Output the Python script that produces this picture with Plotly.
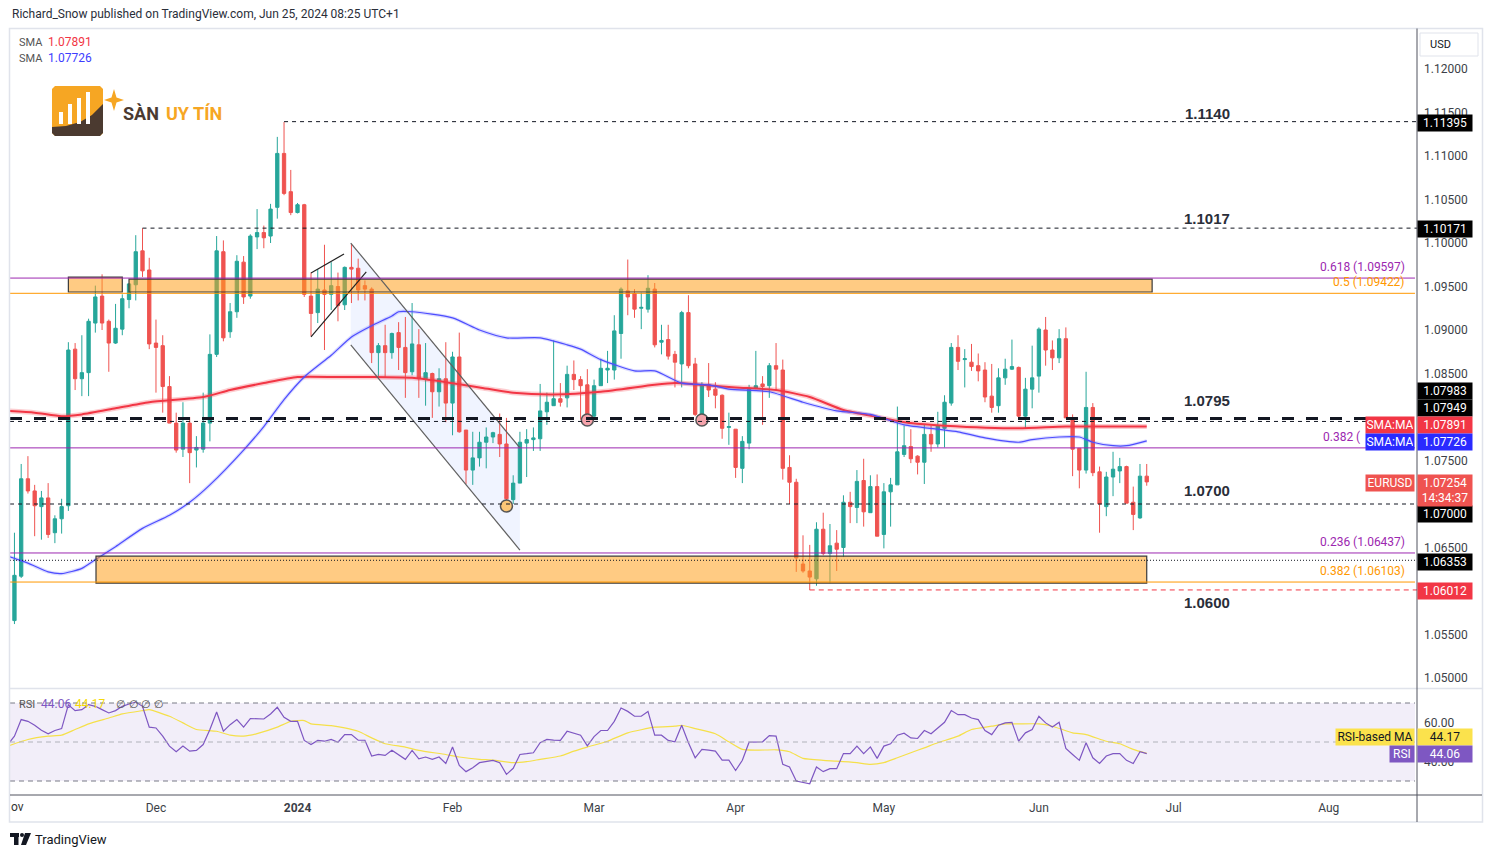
import pandas as pd
import plotly.graph_objects as go

W, H = 1492, 857


def px(v):
    return v / W


def py(v):
    return 1 - v / H


# ---- data (EURUSD daily) ----
dates = pd.bdate_range("2023-11-01", "2024-06-25")

opens = [1.0575, 1.0566, 1.0617, 1.0729, 1.0715, 1.0697, 1.0707, 1.0667, 1.0683, 1.0698,
         1.0878, 1.0844, 1.0851, 1.0908, 1.0939, 1.0910, 1.0885, 1.0901, 1.0935, 1.0952,
         1.0991, 1.0969, 1.0885, 1.0882, 1.0835, 1.0793, 1.0763, 1.0793, 1.0762, 1.0763,
         1.0793, 1.0872, 1.0990, 1.0898, 1.0921, 1.0978, 1.0939, 1.1007, 1.1012, 1.1008,
         1.1041, 1.1103, 1.1059, 1.1035, 1.1044, 1.0939, 1.0920, 1.0946, 1.0941, 1.0950,
         1.0929, 1.0972, 1.0971, 1.0951, 1.0947, 1.0874, 1.0882, 1.0874, 1.0897, 1.0880,
         1.0852, 1.0883, 1.0844, 1.0850, 1.0829, 1.0844, 1.0816, 1.0869, 1.0785, 1.0739,
         1.0753, 1.0771, 1.0777, 1.0780, 1.0769, 1.0705, 1.0724, 1.0770, 1.0774, 1.0775,
         1.0806, 1.0813, 1.0821, 1.0822, 1.0849, 1.0843, 1.0837, 1.0801, 1.0836, 1.0854,
         1.0854, 1.0896, 1.0945, 1.0942, 1.0925, 1.0924, 1.0947, 1.0886, 1.0889, 1.0872,
         1.0861, 1.0920, 1.0861, 1.0803, 1.0837, 1.0832, 1.0825, 1.0788, 1.0786, 1.0741,
         1.0770, 1.0833, 1.0838, 1.0836, 1.0859, 1.0854, 1.0742, 1.0725, 1.0631, 1.0623,
         1.0614, 1.0671, 1.0643, 1.0655, 1.0650, 1.0702, 1.0696, 1.0727, 1.0690, 1.0720,
         1.0665, 1.0714, 1.0722, 1.0757, 1.0766, 1.0755, 1.0748, 1.0780, 1.0769, 1.0787,
         1.0816, 1.0880, 1.0866, 1.0863, 1.0859, 1.0854, 1.0824, 1.0813, 1.0845, 1.0855,
         1.0857, 1.0801, 1.0832, 1.0847, 1.0900, 1.0877, 1.0868, 1.0890, 1.0797, 1.0764,
         1.0739, 1.0811, 1.0737, 1.0697, 1.0731, 1.0738, 1.0743, 1.0702, 1.0684, 1.0732]
highs = [1.0580, 1.0667, 1.0746, 1.0755, 1.0722, 1.0715, 1.0724, 1.0687, 1.0706, 1.0886,
         1.0885, 1.0894, 1.0913, 1.0951, 1.0964, 1.0912, 1.0930, 1.0941, 1.0954, 1.1009,
         1.1017, 1.0983, 1.0912, 1.0894, 1.0847, 1.0805, 1.0817, 1.0800, 1.0778, 1.0828,
         1.0895, 1.1008, 1.1003, 1.0931, 1.0986, 1.0985, 1.1010, 1.1039, 1.1020, 1.1045,
         1.1122, 1.1139, 1.1084, 1.1046, 1.1045, 1.0966, 1.0970, 1.0998, 1.0978, 1.0966,
         1.0973, 1.0999, 1.0982, 1.0957, 1.0949, 1.0885, 1.0906, 1.0897, 1.0909, 1.0915,
         1.0931, 1.0901, 1.0885, 1.0851, 1.0856, 1.0886, 1.0875, 1.0897, 1.0785, 1.0783,
         1.0783, 1.0788, 1.0783, 1.0804, 1.0799, 1.0733, 1.0783, 1.0786, 1.0788, 1.0838,
         1.0828, 1.0888, 1.0839, 1.0859, 1.0865, 1.0847, 1.0855, 1.0843, 1.0867, 1.0876,
         1.0917, 1.0949, 1.0981, 1.0947, 1.0943, 1.0963, 1.0954, 1.0906, 1.0906, 1.0876,
         1.0922, 1.0940, 1.0868, 1.0840, 1.0862, 1.0840, 1.0826, 1.0805, 1.0786, 1.0778,
         1.0837, 1.0876, 1.0847, 1.0862, 1.0885, 1.0866, 1.0756, 1.0729, 1.0664, 1.0653,
         1.0679, 1.0690, 1.0677, 1.0670, 1.0710, 1.0714, 1.0739, 1.0752, 1.0733, 1.0734,
         1.0724, 1.0730, 1.0812, 1.0790, 1.0786, 1.0756, 1.0791, 1.0790, 1.0806, 1.0825,
         1.0885, 1.0894, 1.0878, 1.0884, 1.0873, 1.0863, 1.0861, 1.0856, 1.0867, 1.0889,
         1.0858, 1.0845, 1.0882, 1.0903, 1.0915, 1.0888, 1.0901, 1.0903, 1.0803, 1.0764,
         1.0852, 1.0816, 1.0743, 1.0737, 1.0760, 1.0753, 1.0744, 1.0720, 1.0746, 1.0746]
lows = [1.0517, 1.0562, 1.0615, 1.0712, 1.0663, 1.0659, 1.0661, 1.0655, 1.0666, 1.0692,
        1.0831, 1.0824, 1.0824, 1.0897, 1.0900, 1.0852, 1.0884, 1.0894, 1.0925, 1.0934,
        1.0961, 1.0878, 1.0828, 1.0805, 1.0793, 1.0759, 1.0754, 1.0724, 1.0742, 1.0759,
        1.0772, 1.0869, 1.0887, 1.0891, 1.0914, 1.0930, 1.0936, 1.0993, 1.0994, 1.1000,
        1.1028, 1.1055, 1.1032, 1.1034, 1.0938, 1.0893, 1.0908, 1.0877, 1.0923, 1.0910,
        1.0923, 1.0931, 1.0934, 1.0934, 1.0862, 1.0846, 1.0846, 1.0867, 1.0854, 1.0822,
        1.0848, 1.0822, 1.0813, 1.0799, 1.0812, 1.0794, 1.0779, 1.0782, 1.0723, 1.0722,
        1.0743, 1.0741, 1.0770, 1.0754, 1.0700, 1.0700, 1.0724, 1.0731, 1.0761, 1.0761,
        1.0791, 1.0813, 1.0812, 1.0811, 1.0831, 1.0797, 1.0794, 1.0799, 1.0836, 1.0839,
        1.0843, 1.0867, 1.0917, 1.0914, 1.0901, 1.0920, 1.0880, 1.0872, 1.0866, 1.0834,
        1.0834, 1.0856, 1.0801, 1.0797, 1.0823, 1.0810, 1.0775, 1.0768, 1.0730, 1.0724,
        1.0763, 1.0832, 1.0791, 1.0822, 1.0831, 1.0728, 1.0700, 1.0622, 1.0621, 1.0601,
        1.0606, 1.0641, 1.0609, 1.0623, 1.0639, 1.0678, 1.0678, 1.0674, 1.0690, 1.0663,
        1.0649, 1.0674, 1.0722, 1.0754, 1.0747, 1.0734, 1.0723, 1.0760, 1.0765, 1.0765,
        1.0813, 1.0854, 1.0834, 1.0853, 1.0841, 1.0817, 1.0805, 1.0805, 1.0837, 1.0854,
        1.0798, 1.0787, 1.0810, 1.0828, 1.0859, 1.0854, 1.0862, 1.0799, 1.0732, 1.0718,
        1.0735, 1.0732, 1.0667, 1.0686, 1.0709, 1.0724, 1.0701, 1.0670, 1.0683, 1.0721]
closes = [1.0566, 1.0618, 1.0729, 1.0715, 1.0698, 1.0707, 1.0665, 1.0683, 1.0697, 1.0877,
          1.0844, 1.0851, 1.0910, 1.0938, 1.0908, 1.0885, 1.0902, 1.0936, 1.0953, 1.0990,
          1.0968, 1.0884, 1.0880, 1.0835, 1.0793, 1.0762, 1.0793, 1.0759, 1.0765, 1.0793,
          1.0872, 1.0991, 1.0891, 1.0921, 1.0979, 1.0938, 1.1008, 1.1012, 1.1006, 1.1039,
          1.1103, 1.1057, 1.1035, 1.1044, 1.0941, 1.0919, 1.0947, 1.0941, 1.0951, 1.0928,
          1.0972, 1.0970, 1.0946, 1.0947, 1.0874, 1.0882, 1.0874, 1.0896, 1.0880, 1.0851,
          1.0884, 1.0844, 1.0851, 1.0829, 1.0844, 1.0816, 1.0869, 1.0783, 1.0739, 1.0753,
          1.0771, 1.0777, 1.0782, 1.0769, 1.0706, 1.0724, 1.0771, 1.0774, 1.0776, 1.0807,
          1.0817, 1.0821, 1.0817, 1.0849, 1.0843, 1.0836, 1.0800, 1.0836, 1.0856, 1.0856,
          1.0899, 1.0947, 1.0938, 1.0924, 1.0926, 1.0948, 1.0883, 1.0888, 1.0870, 1.0863,
          1.0920, 1.0859, 1.0803, 1.0837, 1.0831, 1.0825, 1.0787, 1.0789, 1.0742, 1.0772,
          1.0832, 1.0836, 1.0835, 1.0859, 1.0855, 1.0741, 1.0725, 1.0638, 1.0623, 1.0616,
          1.0671, 1.0643, 1.0652, 1.0648, 1.0702, 1.0697, 1.0726, 1.0691, 1.0720, 1.0663,
          1.0714, 1.0722, 1.0760, 1.0767, 1.0752, 1.0748, 1.0780, 1.0769, 1.0790, 1.0817,
          1.0880, 1.0864, 1.0867, 1.0858, 1.0853, 1.0823, 1.0811, 1.0845, 1.0855, 1.0858,
          1.0801, 1.0832, 1.0845, 1.0901, 1.0877, 1.0868, 1.0890, 1.0799, 1.0763, 1.0739,
          1.0811, 1.0736, 1.0700, 1.0731, 1.0740, 1.0743, 1.0701, 1.0688, 1.0732, 1.07254]

rsi = [48.7, 53.0, 61.5, 60.6, 58.6, 56.0, 54.2, 55.9, 56.9, 69.1,
       66.1, 66.6, 69.1, 68.3, 66.6, 64.9, 66.1, 68.3, 69.5, 70.5,
       68.3, 57.6, 57.2, 53.0, 47.9, 45.0, 47.9, 45.3, 45.7, 48.7,
       56.4, 65.4, 55.5, 58.9, 61.5, 57.6, 62.0, 62.0, 61.8, 64.4,
       67.8, 62.7, 60.6, 60.6, 50.8, 48.7, 50.8, 50.4, 51.3, 49.9,
       53.8, 53.8, 50.9, 50.9, 42.8, 43.6, 43.1, 45.8, 43.5, 41.1,
       45.7, 41.4, 42.3, 41.1, 42.3, 39.0, 47.4, 38.0, 34.8, 36.8,
       39.4, 40.0, 40.6, 39.4, 33.4, 36.5, 43.6, 44.0, 44.5, 49.6,
       51.3, 51.0, 50.8, 55.5, 54.5, 53.5, 48.0, 52.8, 55.9, 55.9,
       60.6, 67.4, 65.7, 63.2, 63.2, 65.7, 53.5, 53.5, 50.8, 50.1,
       58.6, 49.6, 41.9, 46.2, 45.8, 45.3, 40.7, 40.7, 35.4, 40.6,
       49.9, 50.1, 50.1, 53.3, 53.0, 38.5, 37.2, 30.0, 29.2, 28.6,
       37.2, 34.8, 36.3, 36.3, 44.1, 44.0, 47.9, 44.0, 47.5, 41.6,
       47.9, 49.1, 53.5, 54.5, 52.1, 51.8, 55.9, 54.2, 57.2, 60.1,
       66.1, 64.0, 64.0, 62.3, 61.5, 55.9, 53.8, 58.6, 59.8, 60.1,
       50.4, 54.7, 56.4, 63.2, 59.8, 57.7, 60.1, 46.7, 43.6, 40.6,
       49.6, 41.9, 39.0, 42.8, 44.0, 44.1, 40.6, 39.0, 45.0, 44.06]

# moving averages, sampled along the drawn lines (bar index, value)
sma200_bar = [0, 4, 8, 11, 16, 21, 29, 33, 38, 43, 49, 54, 60, 65, 70, 75, 81, 88, 96, 99,
              103, 108, 114, 119, 124, 129, 134, 139, 150, 157, 169]
sma200_val = [1.0807, 1.0805, 1.0801, 1.0803, 1.0810, 1.0817, 1.0823, 1.0831, 1.0839, 1.0846,
              1.0846, 1.0846, 1.0845, 1.0840, 1.0834, 1.0828, 1.0826, 1.0829, 1.0837, 1.0839,
              1.0837, 1.0834, 1.0831, 1.0823, 1.0808, 1.0800, 1.0793, 1.0790, 1.0787, 1.0789, 1.07891]
sma50_bar = [0, 3, 6, 8, 11, 13, 16, 20, 24, 27, 30, 35, 38, 41, 44, 48, 51, 54, 57, 58,
             60, 66, 70, 74, 79, 83, 85, 88, 93, 96, 100, 104, 107, 113, 118, 123, 128, 133,
             138, 141, 145, 150, 152, 156, 159, 161, 164, 166, 169]
sma50_val = [1.0640, 1.0632, 1.0622, 1.0620, 1.0626, 1.0636, 1.0651, 1.0672, 1.0687, 1.0702,
             1.0722, 1.0762, 1.0789, 1.0820, 1.0846, 1.0871, 1.0892, 1.0905, 1.0916, 1.0921,
             1.0921, 1.0914, 1.0900, 1.0891, 1.0891, 1.0883, 1.0878, 1.0866, 1.0853, 1.0853,
             1.0839, 1.0837, 1.0832, 1.0829, 1.0817, 1.0807, 1.0803, 1.0791, 1.0786, 1.0783,
             1.0776, 1.0771, 1.0774, 1.0777, 1.0777, 1.0771, 1.0767, 1.0767, 1.07726]
rsima_bar = [0, 3, 6, 8, 10, 12, 15, 17, 20, 21, 24, 26, 28, 31, 33, 35, 37, 40, 42, 44,
             45, 48, 50, 52, 54, 56, 59, 61, 65, 67, 70, 72, 75, 77, 79, 82, 84, 86, 89, 92,
             96, 99, 100, 102, 105, 107, 109, 111, 114, 116, 118, 121, 123, 126, 128, 130,
             132, 134, 136, 138, 141, 143, 146, 148, 150, 153, 155, 158, 160, 163, 165, 167, 169]
rsima_val = [47.9, 51.3, 53.0, 53.5, 56.4, 59.3, 62.3, 64.4, 66.1, 66.6, 63.2, 59.8, 56.4,
             55.5, 53.5, 53.0, 54.3, 57.6, 60.6, 61.0, 59.3, 58.4, 57.2, 55.5, 52.1, 49.1,
             47.4, 45.7, 43.6, 42.3, 41.1, 40.7, 39.4, 39.9, 41.1, 42.8, 45.3, 47.4, 50.4,
             54.7, 57.6, 58.1, 58.6, 56.9, 54.2, 50.1, 46.2, 45.8, 46.0, 45.0, 41.6, 40.6,
             40.2, 39.4, 38.5, 39.4, 41.9, 44.5, 47.0, 49.6, 53.0, 56.4, 58.1, 59.3, 59.3,
             59.3, 58.1, 54.7, 53.8, 50.4, 49.1, 46.2, 44.17]

# drawings on the chart
level_lines = [1.11395, 1.10171, 1.07983, 1.07949, 1.07000, 1.06353, 1.06012]
level_start = [41, 20, None, None, None, None, 119]
level_text = ["1.1140", "1.1017", "1.0795", "1.0700", "1.0600"]
fib_purple = [1.09597, 1.07645, 1.06437]
fib_purple_text = ["0.618 (1.09597)", "0.382 (", "0.236 (1.06437)"]
fib_orange = [1.09422, 1.06103]
fib_orange_text = ["0.5 (1.09422)", "0.382 (1.06103)"]
zones = [(9, 17, 1.09437, 1.09609), (18, 169.8, 1.09437, 1.09586), (13.1, 169, 1.0609, 1.0640)]
channel_top = [(50.9, 1.1000), (76.0, 1.07644)]
channel_bot = [(50.9, 1.08828), (76.0, 1.06471)]
wedge_a = [(45.0, 1.09655), (49.9, 1.09874)]
wedge_b = [(45.0, 1.0892), (53.2, 1.09667)]
marks_bar = [86, 103, 74]
marks_val = [1.07966, 1.07966, 1.06977]
marks_col = ["#f5a3ab", "#f5a3ab", "#fcc676"]
price_ticks = [1.050, 1.055, 1.065, 1.075, 1.085, 1.090, 1.095, 1.100, 1.105, 1.110, 1.115, 1.120]

xi = list(range(len(dates)))
X0, X1 = 0.34, 209.1
Y0, Y1 = 1.04885, 1.12460

# month ticks on the time axis (trading-day index)
span = pd.bdate_range("2023-11-01", "2024-08-30")
month_vals, month_text = [], []
prev = span[0].month
for i, d in enumerate(span):
    if d.month != prev:
        month_vals.append(i)
        month_text.append("<b>2024</b>" if d.month == 1 else d.strftime("%b"))
        prev = d.month

GREEN, RED = "#26a69a", "#ef5350"
FONT = "Roboto, Arial, sans-serif"

fig = go.Figure()

fig.add_trace(go.Scatter(x=sma200_bar, y=sma200_val, mode="lines", line=dict(color="rgba(242,54,69,0.25)", width=5, shape="spline", smoothing=0.6),
                         hoverinfo="skip", showlegend=False))
fig.add_trace(go.Scatter(x=sma200_bar, y=sma200_val, mode="lines", line=dict(color="#f23645", width=2, shape="spline", smoothing=0.6),
                         hoverinfo="skip", showlegend=False))
fig.add_trace(go.Scatter(x=sma50_bar, y=sma50_val, mode="lines", line=dict(color="rgba(80,80,255,0.2)", width=3.5, shape="spline", smoothing=0.6),
                         hoverinfo="skip", showlegend=False))
fig.add_trace(go.Scatter(x=sma50_bar, y=sma50_val, mode="lines", line=dict(color="#4d4dff", width=1.2, shape="spline", smoothing=0.6),
                         hoverinfo="skip", showlegend=False))

fig.add_trace(go.Candlestick(
    x=xi, open=opens, high=highs, low=lows, close=closes,
    increasing=dict(line=dict(color=GREEN, width=1), fillcolor=GREEN),
    decreasing=dict(line=dict(color=RED, width=1), fillcolor=RED),
    whiskerwidth=0, showlegend=False))

fig.add_trace(go.Scatter(x=marks_bar, y=marks_val, mode="markers",
                         marker=dict(size=12, color=marks_col, line=dict(color="#555", width=1.5)),
                         hoverinfo="skip", showlegend=False))

# RSI pane
fig.add_trace(go.Scatter(x=rsima_bar, y=rsima_val, xaxis="x2", yaxis="y2", mode="lines",
                         line=dict(color="#f5e04a", width=1.2, shape="spline", smoothing=0.5),
                         hoverinfo="skip", showlegend=False))
fig.add_trace(go.Scatter(x=xi, y=rsi, xaxis="x2", yaxis="y2", mode="lines",
                         line=dict(color="#7e57c2", width=1.2), hoverinfo="skip", showlegend=False))

shapes = []
# zones and drawings
for a, b, lo, hi in zones:
    shapes.append(dict(type="rect", xref="x", yref="y", x0=a, x1=b, y0=lo, y1=hi, layer="above",
                       fillcolor="rgba(255,160,30,0.55)", line=dict(color="#3a3a3a", width=1.2)))
shapes.append(dict(type="path", xref="x", yref="y", layer="below", line=dict(width=0),
                   fillcolor="rgba(41,98,255,0.07)",
                   path="M {},{} L {},{} L {},{} L {},{} Z".format(
                       channel_top[0][0], channel_top[0][1], channel_top[1][0], channel_top[1][1],
                       channel_bot[1][0], channel_bot[1][1], channel_bot[0][0], channel_bot[0][1])))
for seg, col in [(channel_top, "#606060"), (channel_bot, "#606060"), (wedge_a, "#222"), (wedge_b, "#222")]:
    shapes.append(dict(type="line", xref="x", yref="y", x0=seg[0][0], y0=seg[0][1], x1=seg[1][0], y1=seg[1][1],
                       layer="above", line=dict(color=col, width=1.2)))

styles = [("#131722", 1, "4px,4px"), ("#131722", 1, "4px,4px"), ("#131722", 3, "12px,12px"),
          ("#131722", 1, "4px,4px"), ("#131722", 1, "4px,4px"), ("#131722", 1, "1px,2px"),
          ("#f23645", 1, "5px,4px")]
for lv, st, (col, w, dash) in zip(level_lines, level_start, styles):
    shapes.append(dict(type="line", xref="x", yref="y", x0=X0 if st is None else st, x1=X1, y0=lv, y1=lv,
                       layer="above", line=dict(color=col, width=w, dash=dash)))
for lv in fib_purple:
    shapes.append(dict(type="line", xref="x", yref="y", x0=X0, x1=X1 - 0.3, y0=lv, y1=lv,
                       layer="above", line=dict(color="#9c27b0", width=1)))
for lv in fib_orange:
    shapes.append(dict(type="line", xref="x", yref="y", x0=X0, x1=X1 - 0.3, y0=lv, y1=lv,
                       layer="above", line=dict(color="#ff9800", width=1)))

# RSI band and guides
shapes.append(dict(type="rect", xref="paper", yref="y2", x0=px(10), x1=px(1415), y0=30, y1=70,
                   fillcolor="rgba(126,87,194,0.1)", line=dict(width=0), layer="below"))
for lv in [70, 50, 30]:
    shapes.append(dict(type="line", xref="paper", yref="y2", x0=px(10), x1=px(1415), y0=lv, y1=lv,
                       line=dict(color="#787b86" if lv != 50 else "#b0b2ba", width=1, dash="5px,4px")))

# frame
shapes.append(dict(type="rect", xref="paper", yref="paper", x0=px(9.5), x1=px(1482.5), y0=py(822), y1=py(28.5),
                   line=dict(color="#e0e3eb", width=1.5)))
shapes.append(dict(type="line", xref="paper", yref="paper", x0=px(10), x1=px(1482), y0=py(688.5), y1=py(688.5),
                   line=dict(color="#e0e3eb", width=1.5)))
shapes.append(dict(type="line", xref="paper", yref="paper", x0=px(1417), x1=px(1417), y0=py(822), y1=py(28.5),
                   line=dict(color="#50535e", width=1)))
shapes.append(dict(type="line", xref="paper", yref="paper", x0=px(10), x1=px(1482), y0=py(795), y1=py(795),
                   line=dict(color="#50535e", width=1)))
shapes.append(dict(type="rect", xref="paper", yref="paper", x0=px(1420), x1=px(1478), y0=py(56), y1=py(33),
                   line=dict(color="#e0e3eb", width=1), fillcolor="white"))


def pix_path(points):
    return "M " + " L ".join("{:.5f},{:.5f}".format(px(a), py(b)) for a, b in points) + " Z"


# logo (top-left)
shapes.append(dict(type="path", xref="paper", yref="paper", fillcolor="#f6a623", line=dict(width=0),
                   path=pix_path([(55, 86), (100, 86), (103, 89), (103, 133), (100, 136), (55, 136), (52, 133), (52, 89)])))
shapes.append(dict(type="path", xref="paper", yref="paper", fillcolor="#4b3a30", line=dict(width=0),
                   path=pix_path([(52, 127), (66, 126), (80, 122), (92, 115), (103, 104), (103, 133), (100, 136), (55, 136), (52, 133)])))
for bx, top in [(59, 112), (68, 104), (77, 98), (86, 92)]:
    shapes.append(dict(type="rect", xref="paper", yref="paper", x0=px(bx), x1=px(bx + 4), y0=py(124), y1=py(top),
                       fillcolor="white", line=dict(width=0)))
shapes.append(dict(type="path", xref="paper", yref="paper", fillcolor="#f6a623", line=dict(width=0),
                   path=pix_path([(114, 89), (116.5, 97.5), (124, 100), (116.5, 102.5), (114, 111), (111.5, 102.5), (104, 100), (111.5, 97.5)])))
# footer TradingView mark
shapes.append(dict(type="rect", xref="paper", yref="paper", x0=px(10), x1=px(19), y0=py(837), y1=py(833),
                   fillcolor="#131722", line=dict(width=0)))
shapes.append(dict(type="rect", xref="paper", yref="paper", x0=px(14), x1=px(18.5), y0=py(845), y1=py(833),
                   fillcolor="#131722", line=dict(width=0)))
shapes.append(dict(type="circle", xref="paper", yref="paper", x0=px(20), x1=px(24), y0=py(837), y1=py(833),
                   fillcolor="#131722", line=dict(width=0)))
shapes.append(dict(type="path", xref="paper", yref="paper", fillcolor="#131722", line=dict(width=0),
                   path=pix_path([(25, 833), (31, 833), (26, 845), (21, 845)])))

ann = []


def text(x, y, s, size=12, color="#131722", anchor="left", **kw):
    ann.append(dict(xref="paper", yref="paper", x=px(x), y=py(y), text=s, showarrow=False,
                    xanchor=anchor, yanchor="middle", font=dict(size=size, color=color, family=FONT), **kw))


def tag(y, s, bg, fg="white", x=1417, anchor="left", w=52, h=14):
    ann.append(dict(xref="paper", yref="paper", x=px(x), y=py(y), text=s, showarrow=False,
                    xanchor=anchor, yanchor="middle", bgcolor=bg, width=w, height=h, borderpad=1,
                    align="center", font=dict(size=12, color=fg, family=FONT)))


text(10, 14, "Richard_Snow published on TradingView.com, Jun 25, 2024 08:25 UTC+1", 12, "#2a2e39")
text(17, 42, "SMA", 11, "#555")
text(46, 42, "1.07891", 12, "#f23645")
text(17, 58, "SMA", 11, "#555")
text(46, 58, "1.07726", 12, "#3d3dff")
text(121, 113, "<b>SÀN</b>", 18, "#4b3a30")
text(164, 113, "<b>UY TÍN</b>", 18, "#f6a623")
text(17, 704, "RSI", 11, "#555")
text(39, 704, "44.06", 12, "#7e57c2")
text(73, 704, "44.17", 12, "#f5d90a")
text(114, 704, "∅ ∅ ∅ ∅", 11, "#555")
text(1428, 44, "USD", 11, "#131722")
text(33, 839, "TradingView", 13, "#131722")
text(9, 807, "ov", 12, "#333")

# level labels above the lines
shifts = [8, 10, 21, 14, -11]
for s, sh in zip(level_text, shifts):
    ann.append(dict(xref="x", yref="y", x=178, y=float(s), yshift=sh, text="<b>" + s + "</b>", showarrow=False,
                    xanchor="center", yanchor="middle", font=dict(size=15, color="#2a2e39", family="Liberation Sans, Arial")))
fib_x = [207.6, 200.9, 207.6]
for lv, s, fx in zip(fib_purple, fib_purple_text, fib_x):
    ann.append(dict(xref="x", yref="y", x=fx, y=lv, yshift=2, text=s, showarrow=False,
                    xanchor="right", yanchor="bottom", font=dict(size=12, color="#9c27b0", family=FONT)))
for lv, s in zip(fib_orange, fib_orange_text):
    ann.append(dict(xref="x", yref="y", x=207.6, y=lv, yshift=2, text=s, showarrow=False,
                    xanchor="right", yanchor="bottom", font=dict(size=12, color="#ff9800", family=FONT)))

# price scale tags
tag(123, "1.11395", "#000")
tag(229, "1.10171", "#000")
tag(391, "1.07983", "#000")
tag(408, "1.07949", "#000")
tag(425, "1.07891", "#f23645")
tag(442, "1.07726", "#2a2aff")
tag(514, "1.07000", "#000")
tag(562, "1.06353", "#000")
tag(591, "1.06012", "#f23645")
tag(490, "1.07254<br>14:34:37", "#ef5350", h=29)
tag(425, "SMA:MA", "#f23645", x=1415, anchor="right", w=46)
tag(442, "SMA:MA", "#2a2aff", x=1415, anchor="right", w=46)
tag(483, "EURUSD", "#ef5350", x=1415, anchor="right", w=46)
tag(737, "44.17", "#fbe24c", fg="#131722")
tag(754, "44.06", "#7e57c2")
tag(737, "RSI-based MA", "#fbe24c", fg="#131722", x=1415, anchor="right", w=76)
tag(754, "RSI", "#7e57c2", x=1415, anchor="right", w=22)

fig.update_layout(
    width=W, height=H, margin=dict(l=0, r=0, t=0, b=0),
    paper_bgcolor="white", plot_bgcolor="white",
    font=dict(family=FONT, size=12, color="#131722"),
    showlegend=False, hovermode=False,
    shapes=shapes, annotations=ann,
    xaxis=dict(domain=[px(10), px(1417)], range=[X0, X1], anchor="y", showticklabels=False,
               showgrid=False, zeroline=False, rangeslider=dict(visible=False), fixedrange=True),
    yaxis=dict(domain=[py(688), py(29)], range=[Y0, Y1], anchor="x", side="right",
               tickvals=price_ticks, tickformat=".5f", ticks="", showgrid=False, zeroline=False,
               tickfont=dict(size=12, color="#3c3f48"), ticklabelstandoff=6),
    xaxis2=dict(domain=[px(10), px(1417)], range=[X0, X1], anchor="y2", matches="x",
                tickvals=month_vals, ticktext=month_text, ticks="", showgrid=False, zeroline=False,
                tickfont=dict(size=12, color="#3c3f48"), showline=False, ticklabelstandoff=4),
    yaxis2=dict(domain=[py(795), py(689)], range=[22.82, 77.18], anchor="x2", side="right",
                tickvals=[40, 60], ticktext=["40.00", "60.00"], ticks="", showgrid=False, zeroline=False,
                tickfont=dict(size=12, color="#3c3f48"), ticklabelstandoff=6),
)

fig.write_html("out.html", config={"displayModeBar": False},
               post_script="document.body.style.margin='0px';document.body.style.overflow='hidden';")
